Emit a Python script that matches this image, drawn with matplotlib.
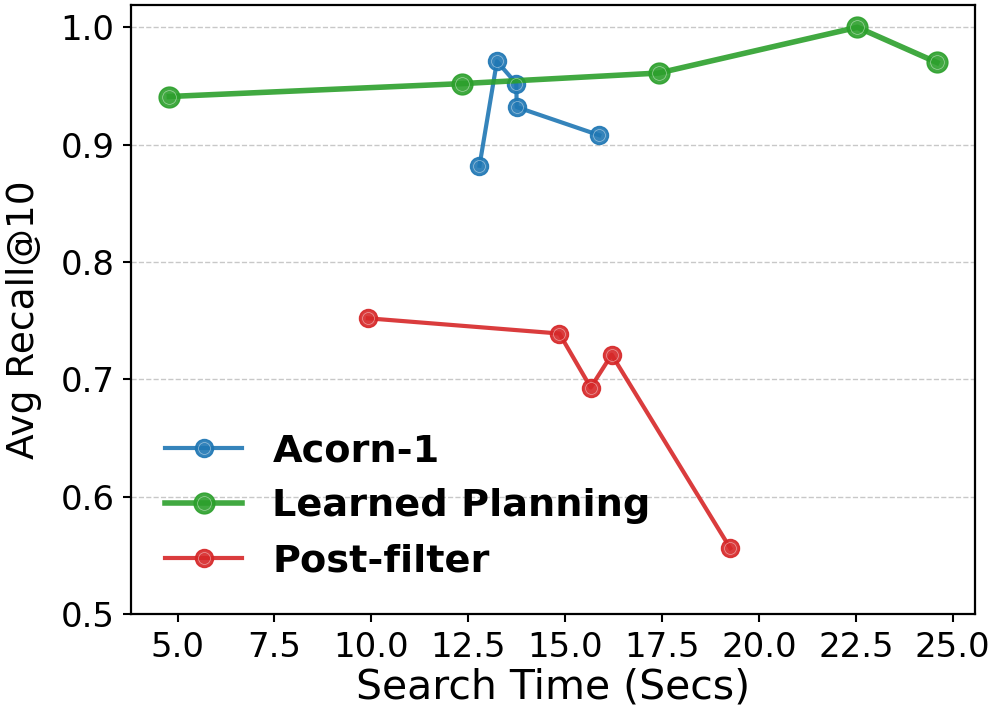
import matplotlib
matplotlib.use("Agg")
import matplotlib.pyplot as plt

# Data
acorn_x = [12.79, 13.24, 13.74, 13.75, 15.88]
acorn_y = [0.882, 0.971, 0.952, 0.932, 0.908]
learned_x = [4.79, 12.34, 17.41, 22.54, 24.59]
learned_y = [0.941, 0.952, 0.961, 1.000, 0.970]
post_x = [9.91, 14.85, 15.66, 16.20, 19.26]
post_y = [0.752, 0.739, 0.693, 0.721, 0.556]
series_names = ["Acorn-1", "Learned Planning", "Post-filter"]
x_ticks = [5.0, 7.5, 10.0, 12.5, 15.0, 17.5, 20.0, 22.5, 25.0]
y_ticks = [0.5, 0.6, 0.7, 0.8, 0.9, 1.0]

fig = plt.figure(figsize=(9.97, 7.23), dpi=100)
ax = fig.add_axes([0.1314, 0.1508, 0.8468, 0.8423])

styles = [
    (acorn_x, acorn_y, "#1f77b4", 3.0, 13),
    (learned_x, learned_y, "#2ca02c", 4.0, 15),
    (post_x, post_y, "#d62728", 3.0, 13),
]
handles = []
for (xs, ys, c, lw, ms), name in zip(styles, series_names):
    ln, = ax.plot(xs, ys, color=c, lw=lw, marker="o", ms=ms, mec=c, mew=1.0,
                  alpha=0.9, zorder=3)
    ring, = ax.plot(xs, ys, ls="none", marker="o", ms=ms * 0.66, mfc="none",
                    mec="white", mew=0.5, alpha=0.5, zorder=4)
    handles.append((ln, ring))

ax.set_xticks(x_ticks)
ax.set_yticks(y_ticks)
ax.set_ylim(0.5, 1.019)
ax.tick_params(labelsize=24.5, length=6, width=1.5, pad=6)
for s in ax.spines.values():
    s.set_linewidth(1.6)
ax.grid(axis="y", ls="--", color="#c8c8c8", lw=1.0)
ax.set_axisbelow(True)
ax.set_xlabel("Search Time (Secs)", fontsize=29.5, labelpad=3)
ax.set_ylabel("Avg Recall@10", fontsize=27)
ax.yaxis.set_label_coords(-0.105, 0.483)

ax.legend(handles, series_names, loc="lower left", frameon=False,
          prop={"weight": "bold", "size": 27.5})

fig.savefig("out.png", dpi=100)
